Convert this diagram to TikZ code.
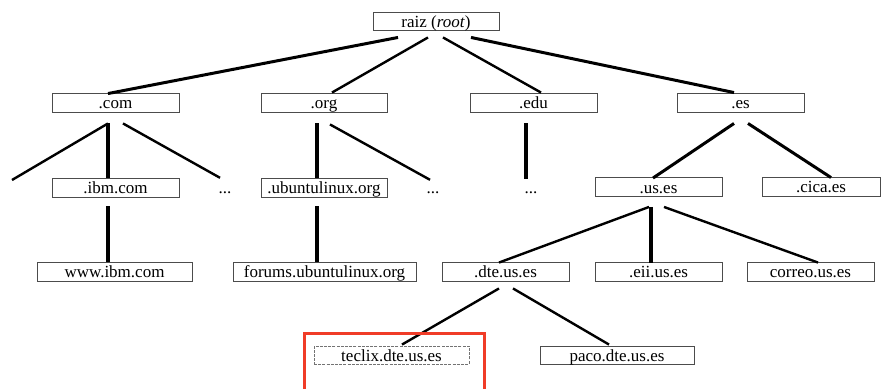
\documentclass[tikz,border=0pt]{standalone}
\usepackage{fontspec}
\setmainfont{Liberation Serif}
\usetikzlibrary{calc}
\definecolor{markred}{RGB}{240,60,40}

\begin{document}
\begin{tikzpicture}[
        x=1pt, y=-1pt,
        font=\fontsize{17}{20}\selectfont,
        dnsbox/.style={rectangle, draw=black!70, line width=0.9pt, minimum width=127pt, minimum height=19pt, inner sep=0pt, text height=13.5pt, text depth=1.5pt},
        hidden/.style={dnsbox, draw=black!55, dash pattern=on 3pt off 1.2pt},
        dots/.style={inner sep=0pt, minimum height=19pt, text height=13.5pt, text depth=1.5pt},
        link/.style={line width=2.4pt},
        wide/.style={line width=3pt},
        stem/.style={line width=4pt},
        highlight/.style={draw=markred, line width=3pt}
    ]
    \useasboundingbox (0,0) rectangle (882,388);

    % Root
    \node[dnsbox, minimum width=126pt, minimum height=18pt] (root) at (436,21) {raiz (\textit{root})};

    % Top level domains
    \node[dnsbox] (com) at (115.5,102.5) {.com};
    \node[dnsbox, minimum width=126pt] (org) at (324,102.5) {.org};
    \node[dnsbox] (edu) at (533.5,102.5) {.edu};
    \node[dnsbox] (es) at (740.5,102.5) {.es};

    % Second level
    \coordinate (comleft) at (12,180);
    \node[dnsbox] (ibm) at (115.5,187.5) {.ibm.com};
    \node[dots] (dotscom) at (225,187.5) {...};
    \node[dnsbox, minimum width=126pt] (ubuntu) at (324,187.5) {.ubuntulinux.org};
    \node[dots] (dotsorg) at (433,187.5) {...};
    \node[dots] (dotsedu) at (531,187.5) {...};
    \node[dnsbox] (us) at (658.5,187) {.us.es};
    \node[dnsbox, minimum width=118pt] (cica) at (821,186.5) {.cica.es};

    % Third level
    \node[dnsbox, minimum width=155pt] (www) at (114.5,271.5) {www.ibm.com};
    \node[dnsbox, minimum width=183pt] (forums) at (324.5,271.5) {forums.ubuntulinux.org};
    \node[dnsbox] (dte) at (505.5,271.5) {.dte.us.es};
    \node[dnsbox] (eii) at (658.5,271.5) {.eii.us.es};
    \node[dnsbox] (correo) at (810.5,271.5) {correo.us.es};

    % Hosts
    \node[hidden, minimum width=155pt, minimum height=18pt] (teclix) at (391.5,355) {teclix.dte.us.es};
    \node[dnsbox, minimum width=154pt, minimum height=18pt] (paco) at (617,355) {paco.dte.us.es};

    % Connections
    \draw[wide] ([shift={(-38,7)}]root.south) -- ([shift={(-7.5,1)}]com.north);
    \draw[link] ([shift={(-8,7)}]root.south) -- ([shift={(8,0)}]org.north);
    \draw[link] ([shift={(7,7)}]root.south) -- ([shift={(7.5,0)}]edu.north);
    \draw[wide] ([shift={(35,7)}]root.south) -- ([shift={(-6.5,0)}]es.north);

    \draw[link] ([shift={(-7.5,11)}]com.south) -- (comleft);
    \draw[stem] ([shift={(-7.5,11)}]com.south) -- ([shift={(-7.5,0)}]ibm.north);
    \draw[link] ([shift={(7.5,11)}]com.south) -- ([shift={(-5,0)}]dotscom.north);

    \draw[stem] ([shift={(-7,11)}]org.south) -- ([shift={(-7,0)}]ubuntu.north);
    \draw[link] ([shift={(6,12)}]org.south) -- ([shift={(-3,2)}]dotsorg.north);

    \draw[stem] ([shift={(-7.5,11)}]edu.south) -- ([shift={(-5,1)}]dotsedu.north);

    \draw[wide] ([shift={(-6.5,11)}]es.south) -- ([shift={(-5.5,1)}]us.north);
    \draw[wide] ([shift={(7.5,11)}]es.south) -- ([shift={(10,1)}]cica.north);

    \draw[stem] ([shift={(-7.5,9)}]ibm.south) -- ([shift={(-6.5,0)}]www.north);
    \draw[stem] ([shift={(-7,9)}]ubuntu.south) -- ([shift={(-7.5,0)}]forums.north);

    \draw[link] ([shift={(-9.5,10)}]us.south) -- ([shift={(-6.5,1)}]dte.north);
    \draw[stem] ([shift={(-7.5,10)}]us.south) -- ([shift={(-7.5,1)}]eii.north);
    \draw[link] ([shift={(5.5,10)}]us.south) -- ([shift={(7.5,1)}]correo.north);

    \draw[link] ([shift={(-6.5,7)}]dte.south) -- ([shift={(10.5,-1)}]teclix.north);
    \draw[link] ([shift={(7.5,7)}]dte.south) -- ([shift={(-8,-1)}]paco.north);

    % Highlight
    \draw[highlight] (304.5,390) -- (304.5,333.5) -- (484.5,333.5) -- (484.5,390);

\end{tikzpicture}
\end{document}
